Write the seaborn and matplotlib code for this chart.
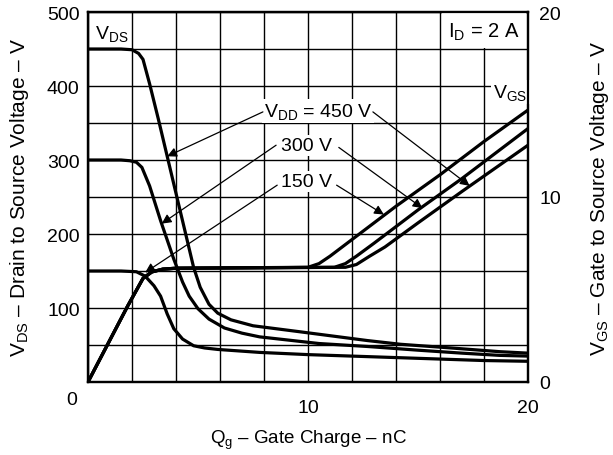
import matplotlib
matplotlib.use("Agg")
import matplotlib.pyplot as plt
from matplotlib.patches import Rectangle
from matplotlib.ticker import FuncFormatter, MultipleLocator
import seaborn as sns

# Gate charge curves (Qg in nC)
qg_vds_450 = [0, 1.5, 2.0, 2.3, 2.5, 2.8, 3.2, 3.6, 4.0, 4.4, 4.8, 5.1, 5.5, 5.9, 6.5, 7.5, 9.6, 12.7, 14.2, 16.5, 18.7, 20]
vds_450 = [450, 450, 449, 444, 436, 403, 355, 305, 255, 205, 155, 128, 105, 93, 84, 76, 68, 56, 51, 46, 41, 39]

qg_vds_300 = [0, 1.5, 1.9, 2.2, 2.45, 2.8, 3.3, 3.9, 4.3, 4.6, 5.0, 5.5, 6.2, 7.0, 7.8, 9.0, 10.5, 12.7, 15, 17, 18.7, 20]
vds_300 = [300, 300, 299, 297, 290, 265, 218, 166, 135, 116, 99, 85, 73, 66, 61, 57, 52, 48, 43, 39, 36, 35]

qg_vds_150 = [0, 1.5, 2.2, 2.6, 3.0, 3.3, 3.6, 3.9, 4.3, 4.8, 5.3, 5.9, 7.8, 10, 12, 14, 16, 18, 20]
vds_150 = [150, 150, 149, 143, 130, 116, 92, 72, 58, 49, 46, 44, 40, 37, 35, 33, 31, 29, 28]

qg_vgs_150 = [0, 1.8, 2.5, 2.9, 3.4, 4.0, 10.0, 10.5, 11.0, 12, 14, 16, 18, 20]
vgs_150 = [0, 4.1, 5.6, 5.95, 6.1, 6.15, 6.2, 6.4, 6.8, 7.7, 9.5, 11.2, 13.0, 14.7]

qg_vgs_300 = [0, 1.8, 2.5, 2.9, 3.4, 4.0, 11.2, 11.7, 12.2, 13, 15, 17, 20]
vgs_300 = [0, 4.1, 5.6, 5.95, 6.1, 6.15, 6.2, 6.4, 6.8, 7.5, 9.3, 11.0, 13.7]

qg_vgs_450 = [0, 1.8, 2.5, 2.9, 3.4, 4.0, 11.7, 12.2, 12.8, 13.5, 15, 17, 20]
vgs_450 = [0, 4.1, 5.6, 5.95, 6.1, 6.15, 6.2, 6.35, 6.8, 7.3, 8.6, 10.3, 12.8]

vds_ticks = [100, 200, 300, 400, 500]
vgs_ticks = [0, 10, 20]
qg_ticks = [10, 20]

sns.set_style("white")
plt.rcParams["font.family"] = ["Liberation Sans", "DejaVu Sans"]
plt.rcParams["mathtext.fontset"] = "custom"
plt.rcParams["mathtext.rm"] = "Liberation Sans"
plt.rcParams["mathtext.it"] = "Liberation Sans"
for key in ["text.color", "axes.labelcolor", "xtick.color", "ytick.color"]:
    plt.rcParams[key] = "black"

fig, ax = plt.subplots(figsize=(6.13, 4.56), dpi=100)
fig.subplots_adjust(left=88 / 613, right=528 / 613, top=1 - 13 / 456, bottom=1 - 383 / 456)
ax2 = ax.twinx()

lw = 2.3
for q, v in [(qg_vds_450, vds_450), (qg_vds_300, vds_300), (qg_vds_150, vds_150)]:
    sns.lineplot(x=q, y=v, ax=ax, color="black", lw=lw, sort=False, estimator=None, zorder=5)
for q, v in [(qg_vgs_150, vgs_150), (qg_vgs_300, vgs_300), (qg_vgs_450, vgs_450)]:
    sns.lineplot(x=q, y=v, ax=ax2, color="black", lw=lw, sort=False, estimator=None, zorder=5)

ax.set_xlim(0, 20)
ax.set_ylim(0, 500)
ax2.set_ylim(0, 20)

# grid every 2 nC / 50 V
ax.xaxis.set_major_locator(MultipleLocator(2))
ax.yaxis.set_major_locator(MultipleLocator(50))
ax.xaxis.set_major_formatter(FuncFormatter(lambda v, p: f"{v:.0f}" if round(v) in qg_ticks else ""))
ax.yaxis.set_major_formatter(FuncFormatter(lambda v, p: f"{v:.0f}" if round(v) in vds_ticks else ""))
ax2.set_yticks(vgs_ticks)
ax.grid(True, color="black", lw=1.0)
ax2.grid(False)
ax.tick_params(length=0, labelsize=14, pad=6, colors="black")
ax.tick_params(axis="x", pad=12)
ax2.tick_params(length=0, labelsize=14, pad=8, colors="black")
for a in (ax, ax2):
    for s in a.spines.values():
        s.set_color("black")
        s.set_linewidth(1.6)
ax.set_zorder(ax2.get_zorder() - 1)
ax2.patch.set_visible(False)

ax.text(-0.75, -12, "0", fontsize=14, ha="center", va="top")

ax.set_xlabel(r"Q$_\mathrm{g}$ – Gate Charge – nC", fontsize=13.5)
ax.xaxis.set_label_coords(0.5, -0.125)
ax.set_ylabel(r"V$_\mathrm{DS}$ – Drain to Source Voltage – V", fontsize=15)
ax.yaxis.set_label_coords(-0.13, 0.5)
ax2.set_ylabel(r"V$_\mathrm{GS}$ – Gate to Source Voltage – V", fontsize=15)
ax2.yaxis.set_label_coords(1.136, 0.5)

# labels in the plot
fs = 14
wb = dict(facecolor="white", edgecolor="none", pad=1.5)
ax.text(1.1, 472, r"V$_\mathrm{DS}$", fontsize=fs, ha="center", va="center", zorder=6)
ax.add_patch(Rectangle((16.08, 451.5), 3.84, 47, facecolor="white", edgecolor="none", zorder=3))
ax.text(18.0, 474, r"I$_\mathrm{D}$ = 2 A", fontsize=14.5, ha="center", va="center", zorder=6)
ax.text(19.2, 392, r"V$_\mathrm{GS}$", fontsize=fs, ha="center", va="center", bbox=wb, zorder=6)

ax.text(10.45, 366, r"V$_\mathrm{DD}$ = 450 V", fontsize=fs, ha="center", va="center", bbox=wb, zorder=6)
ax.text(9.95, 320, "300 V", fontsize=fs, ha="center", va="center", bbox=wb, zorder=6)
ax.text(9.95, 271, "150 V", fontsize=fs, ha="center", va="center", bbox=wb, zorder=6)

arrows = [
    ((7.95, 365), (3.6, 305)),
    ((12.95, 365), (17.35, 10.6 * 25)),
    ((8.55, 320), (3.35, 214)),
    ((11.4, 317), (15.2, 9.4 * 25)),
    ((8.6, 266), (2.6, 148)),
    ((11.3, 266), (13.45, 9.05 * 25)),
]
for start, tip in arrows:
    ax.annotate("", xy=tip, xytext=start, zorder=6,
                arrowprops=dict(arrowstyle="-|>", color="black", lw=0.9,
                                mutation_scale=14, shrinkA=0, shrinkB=0))

fig.savefig("out.png", dpi=100)
